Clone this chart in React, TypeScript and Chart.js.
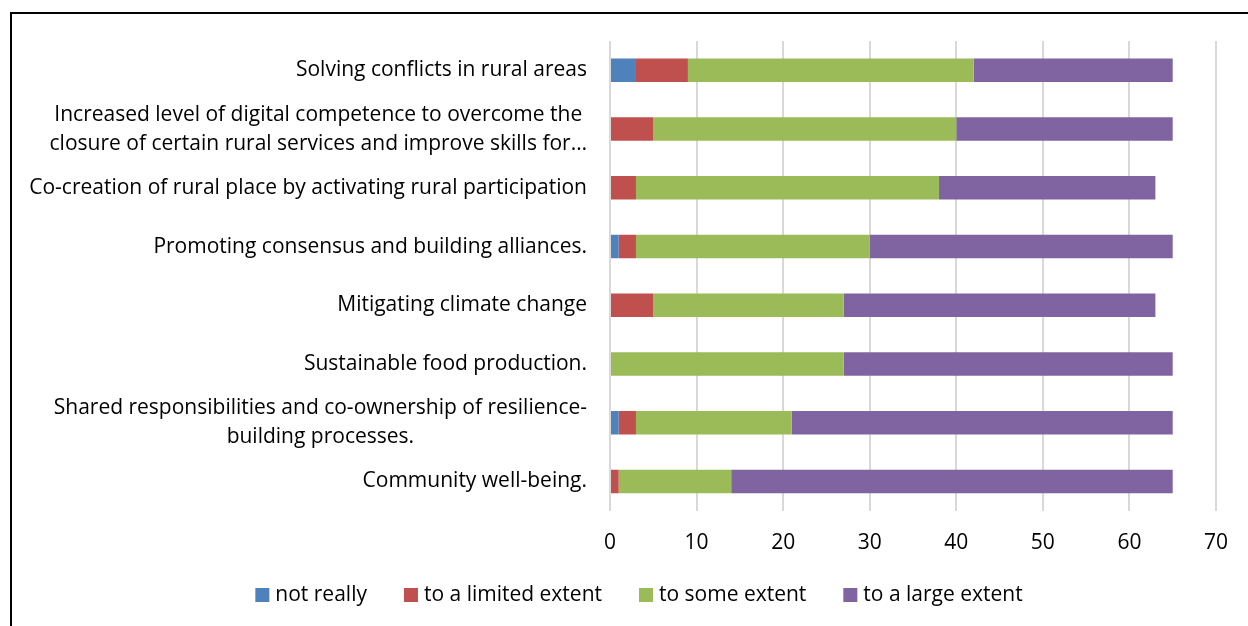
import React, { useEffect, useRef } from "react";
import { Chart, registerables } from "chart.js";

Chart.register(...registerables);

const categories: string[][] = [
  ["Solving conflicts in rural areas"],
  [
    "Increased level of digital competence to overcome the",
    "closure of certain rural services and improve skills for…",
  ],
  ["Co-creation of rural place by activating rural participation"],
  ["Promoting consensus and building alliances."],
  ["Mitigating climate change"],
  ["Sustainable food production."],
  ["Shared responsibilities and co-ownership of resilience-", "building processes."],
  ["Community well-being."],
];

const seriesNames = ["not really", "to a limited extent", "to some extent", "to a large extent"];
const notReally = [3, 0, 0, 1, 0, 0, 1, 0];
const limitedExtent = [6, 5, 3, 2, 5, 0, 2, 1];
const someExtent = [33, 35, 35, 27, 22, 27, 18, 13];
const largeExtent = [23, 25, 25, 35, 36, 38, 44, 51];
const seriesColors = ["#4F81BD", "#C0504D", "#9BBB59", "#8064A2"];
const xTickValues = [0, 10, 20, 30, 40, 50, 60, 70];

const FONT = "'Open Sans'";
const LABEL_SIZE = 21;

const categoryLabelPlugin = {
  id: "categoryLabels",
  afterDraw(chart: any) {
    const ctx = chart.ctx as CanvasRenderingContext2D;
    const yScale = chart.scales.y;
    ctx.save();
    ctx.font = `${LABEL_SIZE}px ${FONT}`;
    ctx.fillStyle = "#000000";
    ctx.textBaseline = "middle";
    ctx.textAlign = "center";
    const right = chart.chartArea.left - 23;
    const lineHeight = 29;
    categories.forEach((lines, i) => {
      const cy = yScale.getPixelForValue(i);
      const maxW = Math.max(...lines.map((l) => ctx.measureText(l).width));
      const cx = right - maxW / 2;
      lines.forEach((l, j) => {
        ctx.fillText(l, cx, cy + (j - (lines.length - 1) / 2) * lineHeight);
      });
    });
    ctx.restore();
  },
};

const legendPlugin = {
  id: "bottomLegend",
  afterDraw(chart: any) {
    const ctx = chart.ctx as CanvasRenderingContext2D;
    ctx.save();
    ctx.font = `${LABEL_SIZE}px ${FONT}`;
    ctx.textBaseline = "middle";
    ctx.textAlign = "left";
    const box = 14;
    const textGap = 6;
    const itemGap = 37;
    const cy = 595;
    const widths = chart.data.datasets.map((d: any) => ctx.measureText(d.label).width);
    const total =
      widths.reduce((a: number, w: number) => a + box + textGap + w, 0) +
      itemGap * (widths.length - 1);
    let x = 639 - total / 2;
    chart.data.datasets.forEach((d: any, i: number) => {
      ctx.fillStyle = d.backgroundColor;
      ctx.fillRect(x, cy - box / 2, box, box);
      ctx.fillStyle = "#000000";
      ctx.fillText(d.label, x + box + textGap, cy);
      x += box + textGap + widths[i] + itemGap;
    });
    ctx.restore();
  },
};

export default function App() {
  const canvasRef = useRef<HTMLCanvasElement | null>(null);

  useEffect(() => {
    if (!canvasRef.current) return;
    const values = [notReally, limitedExtent, someExtent, largeExtent];
    const chart = new Chart(canvasRef.current, {
      type: "bar",
      data: {
        labels: categories.map((c) => c.join(" ")),
        datasets: seriesNames.map((name, k) => ({
          label: name,
          data: values[k],
          backgroundColor: seriesColors[k],
          borderWidth: 0,
          barPercentage: 0.4,
          categoryPercentage: 1,
        })),
      },
      options: {
        indexAxis: "y",
        animation: false,
        responsive: false,
        maintainAspectRatio: false,
        layout: { padding: { left: 60, right: 30, top: 41, bottom: 50 } },
        scales: {
          x: {
            stacked: true,
            min: 0,
            max: 70,
            afterBuildTicks: (scale: any) => {
              scale.ticks = xTickValues.map((v) => ({ value: v }));
            },
            grid: { color: "#d9d9d9", lineWidth: 2, drawTicks: false },
            border: { display: false },
            ticks: {
              padding: 20,
              color: "#000000",
              font: { family: FONT, size: LABEL_SIZE },
            },
          },
          y: {
            stacked: true,
            grid: { display: false },
            border: { display: false },
            ticks: { display: false },
            afterFit: (scale: any) => {
              scale.width = 550;
            },
          },
        },
        plugins: {
          legend: { display: false },
          tooltip: { enabled: false },
        },
      },
      plugins: [categoryLabelPlugin, legendPlugin],
    });
    return () => chart.destroy();
  }, []);

  return (
    <div
      style={{
        position: "fixed",
        left: 0,
        top: 0,
        width: 1248,
        height: 626,
        overflow: "hidden",
        background: "#ffffff",
      }}
    >
      <div
        style={{
          position: "absolute",
          left: 10,
          top: 12,
          width: 1400,
          height: 800,
          borderLeft: "2px solid #000",
          borderTop: "2px solid #000",
        }}
      />
      <canvas
        ref={canvasRef}
        width={1248}
        height={626}
        style={{ position: "absolute", left: 0, top: 0, width: 1248, height: 626 }}
      />
    </div>
  );
}
